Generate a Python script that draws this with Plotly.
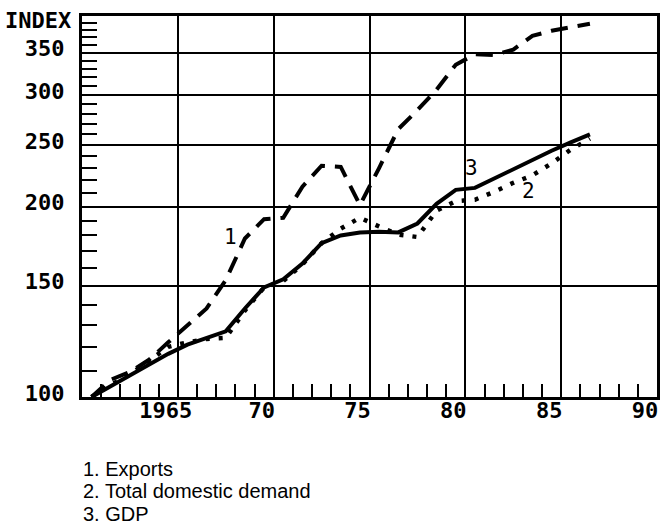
import numpy as np
import plotly.graph_objects as go

# Annual index values (1960 = 100), plotted at mid-year
years = list(range(1960, 1987))
exports = [100, 106.5, 109.5, 114.5, 122, 130, 138, 153, 178, 191, 192, 215, 232,
           231, 201, 230, 265, 284, 306, 335, 348, 347, 354, 372, 379, 384, 389]
domestic_demand = [100, 104.5, 108.5, 114, 120, 122, 123.5, 124, 137, 149, 152.5, 162,
                   175, 184.5, 192, 186, 180.5, 179, 197, 204, 205, 211, 218, 224,
                   234, 246, 256]
gdp = [100, 104, 108, 112.5, 117, 121, 124, 127, 138, 149, 153.5, 162.5, 175, 180,
       182, 182.5, 182, 188, 202, 212.5, 214, 221.5, 229, 236.5, 245, 252.5, 260]

x_major = [1965, 1970, 1975, 1980, 1985, 1990]
x_major_text = ["1965", "70", "75", "80", "85", "90"]
y_major = [100, 150, 200, 250, 300, 350]
y_major_text = ["100", "150", "200", "250", "300", "350"]
y_minor = [v for v in range(110, 400, 10) if v % 50 != 0]
y_title = "INDEX"

series_notes = ["1. Exports", "2. Total domestic demand", "3. GDP"]

xpos = [y + 0.5 for y in years]

fig = go.Figure()
fig.add_trace(go.Scatter(x=xpos, y=exports, mode="lines",
                         line=dict(color="black", width=4, dash="17px,10px")))
fig.add_trace(go.Scatter(x=xpos, y=domestic_demand, mode="lines",
                         line=dict(color="black", width=4.5, dash="4px,9px")))
fig.add_trace(go.Scatter(x=xpos, y=gdp, mode="lines",
                         line=dict(color="black", width=4)))

mono = dict(family="DejaVu Sans Mono", size=22, color="black", weight="bold")

fig.update_layout(
    width=664, height=525,
    margin=dict(l=82, r=4, t=16, b=128),
    paper_bgcolor="white", plot_bgcolor="white",
    showlegend=False,
)
fig.update_xaxes(
    range=[1960, 1990], tickvals=x_major, ticktext=x_major_text,
    showgrid=True, gridcolor="black", gridwidth=2, zeroline=False,
    showline=True, linecolor="black", linewidth=3, mirror=True, ticks="",
    minor=dict(tickvals=list(range(1961, 1990)), ticks="inside", ticklen=13,
               tickwidth=2, tickcolor="black", showgrid=False),
    tickfont=mono, ticklabelshift=-12, ticklabelstandoff=-8,
)
fig.update_yaxes(
    type="log", range=[2, np.log10(400)], tickvals=y_major, ticktext=y_major_text,
    showgrid=True, gridcolor="black", gridwidth=2, zeroline=False,
    showline=True, linecolor="black", linewidth=3, mirror=True, ticks="",
    minor=dict(tickvals=y_minor, ticks="inside", ticklen=15, tickwidth=2,
               tickcolor="black", showgrid=False),
    tickfont=mono, ticklabelshift=-4, ticklabelstandoff=10,
)

# Axis caption at the top of the value scale
fig.add_annotation(xref="paper", yref="paper", x=0, y=1, xanchor="right",
                   yanchor="middle", xshift=-9, yshift=-4, text=y_title,
                   showarrow=False, font=mono)

# Curve numbers
for txt, xv, yv in [("1", 1967.75, 179), ("3", 1980.3, 230), ("2", 1983.3, 211.6)]:
    fig.add_annotation(x=xv, y=np.log10(yv), text=txt, showarrow=False,
                       font=dict(family="DejaVu Sans Mono", size=21, color="black"))

# Key below the chart
for i, note in enumerate(series_notes):
    fig.add_annotation(xref="paper", yref="paper", x=0, y=-0.1877 - 0.0591 * i,
                       xanchor="left", yanchor="middle", text=note, showarrow=False,
                       borderpad=0,
                       font=dict(family="Liberation Sans", size=20, color="black"))

fig.write_html("out.html")
